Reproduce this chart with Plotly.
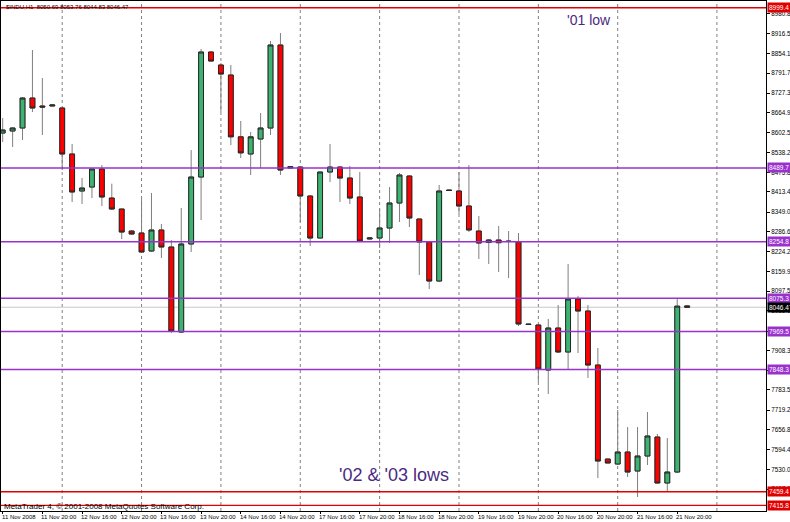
import plotly.graph_objects as go

# ---- data (Dow Jones $INDU, H1) ----
bars = list(range(70))

opens = [8600.8, 8607.2, 8616.8, 8712.2, 8686.8, 8686.8, 8680.4, 8534.1, 8416.3, 8429.0,
         8486.3, 8394.0, 8359.0, 8289.0, 8282.7, 8225.4, 8292.2, 8238.1, 7967.6, 8247.7,
         8460.8, 8858.6, 8817.2, 8785.4, 8588.7, 8534.1, 8581.8, 8616.8, 8880.8, 8489.4,
         8492.6, 8400.4, 8266.7, 8476.8, 8492.6, 8457.6, 8397.2, 8263.6, 8266.7, 8298.6,
         8378.1, 8464.0, 8327.2, 8254.0, 8129.9, 8419.5, 8416.3, 8368.6, 8289.0, 8252.4,
         8260.4, 8257.2, 8254.0, 7993.1, 7989.9, 7846.7, 7980.4, 7904.0, 8072.6, 8034.4,
         7862.6, 7563.5, 7547.6, 7585.8, 7525.3, 7573.0, 7633.5, 7487.2, 7522.1, 8050.69]

highs = [8648.6, 8619.9, 8715.4, 8865.0, 8775.8, 8691.5, 8683.6, 8565.8, 8457.6, 8486.3,
         8499.0, 8439.6, 8359.0, 8292.2, 8390.8, 8409.9, 8311.3, 8260.4, 8362.2, 8546.7,
         8868.1, 8861.7, 8823.6, 8817.2, 8639.0, 8604.0, 8664.5, 8893.6, 8919.0, 8495.8,
         8492.6, 8403.6, 8476.8, 8565.8, 8495.8, 8495.8, 8476.8, 8268.4, 8359.0, 8429.0,
         8473.6, 8467.2, 8327.2, 8257.2, 8435.4, 8421.1, 8476.8, 8499.0, 8336.8, 8263.6,
         8304.9, 8289.0, 8282.7, 7994.7, 7993.1, 8009.0, 8053.5, 8184.0, 8082.1, 8053.5,
         7916.7, 7563.5, 7719.4, 7665.3, 7665.3, 7713.0, 7643.1, 7630.4, 8072.6, 8053.76]

lows = [8572.2, 8556.3, 8578.5, 8667.7, 8594.5, 8685.2, 8483.1, 8381.3, 8374.9, 8394.0,
        8368.6, 8355.8, 8263.6, 8276.3, 8219.0, 8222.2, 8203.1, 7964.4, 7964.4, 8222.2,
        8324.0, 8828.0, 8667.7, 8562.6, 8521.3, 8467.2, 8489.4, 8594.5, 8467.2, 8488.0,
        8317.6, 8241.2, 8266.7, 8444.9, 8381.3, 8374.9, 8257.2, 8262.0, 8234.9, 8250.8,
        8317.6, 8301.7, 8149.0, 8104.4, 8126.7, 8416.3, 8343.1, 8285.8, 8199.9, 8184.0,
        8158.5, 8139.4, 7986.7, 7989.9, 7808.5, 7770.3, 7900.8, 7846.7, 7900.8, 7821.3,
        7503.0, 7550.8, 7544.4, 7506.2, 7442.6, 7544.4, 7485.6, 7458.5, 7519.0, 8044.83]

closes = [8610.4, 8616.8, 8712.2, 8680.4, 8683.6, 8689.9, 8534.1, 8413.1, 8425.8, 8486.3,
          8397.2, 8359.0, 8285.8, 8279.5, 8222.2, 8292.2, 8238.1, 7970.8, 8247.7, 8460.8,
          8858.6, 8829.9, 8788.5, 8588.7, 8537.6, 8588.7, 8616.8, 8880.8, 8483.1, 8493.6,
          8400.4, 8266.7, 8476.8, 8492.6, 8457.6, 8394.0, 8257.2, 8266.7, 8298.6, 8378.1,
          8467.2, 8330.4, 8254.0, 8129.9, 8416.3, 8417.9, 8368.6, 8292.2, 8250.8, 8260.4,
          8251.8, 8255.6, 7993.1, 7991.5, 7849.9, 7980.4, 7904.0, 8072.6, 8034.4, 7862.6,
          7557.1, 7550.8, 7585.8, 7522.1, 7573.0, 7636.7, 7487.2, 7522.1, 8050.0, 8046.47]

x_label_bars = [0, 4, 8, 12, 16, 20, 24, 28, 32, 36, 40, 44, 48, 52, 56, 60, 64, 68]
x_labels = ["11 Nov 2008", "11 Nov 20:00", "12 Nov 16:00", "12 Nov 20:00", "13 Nov 16:00",
            "13 Nov 20:00", "14 Nov 16:00", "14 Nov 20:00", "17 Nov 16:00", "17 Nov 20:00",
            "18 Nov 16:00", "18 Nov 20:00", "19 Nov 16:00", "19 Nov 20:00", "20 Nov 16:00",
            "20 Nov 20:00", "21 Nov 16:00", "21 Nov 20:00"]
grid_bars = [6, 14, 22, 30, 38, 46, 54, 62, 72]

y_ticks = [8980.86, 8916.51, 8854.11, 8791.71, 8727.36, 8664.96, 8602.56, 8538.21, 8475.81,
           8413.41, 8349.06, 8286.66, 8224.26, 8159.91, 8097.51, 8035.11, 7970.76, 7908.36,
           7845.96, 7783.56, 7719.21, 7656.81, 7594.41, 7530.06, 7467.66]

red_levels = [8999.4, 7459.4, 7415.8]
purple_levels = [8489.7, 8254.8, 8075.3, 7969.5, 7848.3]
last_price = 8046.47
symbol = "$INDU,H1"

# ---- figure ----
UP = "#3cb371"
DOWN = "#ff0000"
PURPLE = "#9932cc"
RED = "#e00000"
FONT = "Liberation Sans"

body_hi = [max(o, c) for o, c in zip(opens, closes)]
body_lo = [min(o, c) for o, c in zip(opens, closes)]

fig = go.Figure()
# wicks (gray)
fig.add_trace(go.Candlestick(
    x=bars, open=opens, high=highs, low=lows, close=closes,
    increasing=dict(line=dict(color="#7f7f7f", width=1), fillcolor=UP),
    decreasing=dict(line=dict(color="#7f7f7f", width=1), fillcolor=DOWN),
    whiskerwidth=0, showlegend=False, hoverinfo="skip"))
# bodies with dark outline
fig.add_trace(go.Candlestick(
    x=bars, open=opens, high=body_hi, low=body_lo, close=closes,
    increasing=dict(line=dict(color="#262626", width=1), fillcolor=UP),
    decreasing=dict(line=dict(color="#262626", width=1), fillcolor=DOWN),
    whiskerwidth=0, showlegend=False))

shapes = []
for g in grid_bars:
    shapes.append(dict(type="line", xref="x", yref="paper", x0=g, x1=g, y0=0, y1=1,
                       line=dict(color="#808080", width=1, dash="dot"), layer="below"))
shapes.append(dict(type="line", xref="paper", yref="y", x0=0, x1=1, y0=last_price, y1=last_price,
                   line=dict(color="#c8c8c8", width=1), layer="below"))
for lv in red_levels:
    shapes.append(dict(type="line", xref="paper", yref="y", x0=0, x1=1, y0=lv, y1=lv,
                       line=dict(color=RED, width=1.3)))
for lv in purple_levels:
    shapes.append(dict(type="line", xref="paper", yref="y", x0=0, x1=1, y0=lv, y1=lv,
                       line=dict(color=PURPLE, width=1.6)))

annotations = []
for b, t in zip(x_label_bars, x_labels):
    annotations.append(dict(x=b, y=0, xref="x", yref="paper", text=t, showarrow=False,
                            xanchor="left", yanchor="top", xshift=-3, yshift=-1,
                            font=dict(family=FONT, size=6, color="#000000")))


def level_label(val, bg):
    return dict(x=1, y=val, xref="paper", yref="y", text=f"{val:.1f}", showarrow=False,
                xanchor="left", yanchor="middle", xshift=1, bgcolor=bg, borderpad=1,
                font=dict(family=FONT, size=6.5, color="#ffffff"))


for lv in purple_levels:
    annotations.append(level_label(lv, PURPLE))
for lv in red_levels:
    annotations.append(level_label(lv, RED))
annotations.append(dict(x=1, y=last_price, xref="paper", yref="y", text=f"{last_price:.2f}",
                        showarrow=False, xanchor="left", yanchor="middle", xshift=1,
                        bgcolor="#000000", borderpad=1,
                        font=dict(family=FONT, size=6.5, color="#ffffff")))

header = f"{symbol}  {opens[-1]:.2f} {highs[-1]:.2f} {lows[-1]:.2f} {closes[-1]:.2f}"
annotations.append(dict(x=0, y=1, xref="paper", yref="paper", text=header, showarrow=False,
                        xanchor="left", yanchor="top", xshift=3, yshift=-1,
                        font=dict(family=FONT, size=6, color="#000000")))
annotations.append(dict(x=0, y=0, xref="paper", yref="paper",
                        text="MetaTrader 4, © 2001-2008 MetaQuotes Software Corp.",
                        showarrow=False, xanchor="left", yanchor="bottom", xshift=1, yshift=-2,
                        font=dict(family=FONT, size=8, color="#000000")))
annotations.append(dict(x=57.1, y=8960, xref="x", yref="y", text="'01 low", showarrow=False,
                        xanchor="left", yanchor="middle", xshift=-4,
                        font=dict(family=FONT, size=14, color="#4b2a80")))
annotations.append(dict(x=34.0, y=7512, xref="x", yref="y", text="'02 & '03 lows", showarrow=False,
                        xanchor="left", yanchor="middle", xshift=-3,
                        font=dict(family=FONT, size=18, color="#4b2a80")))

fig.update_layout(
    width=790, height=522,
    margin=dict(l=1, r=24, t=1, b=11, autoexpand=False),
    paper_bgcolor="white", plot_bgcolor="white",
    showlegend=False,
    boxgap=0.3,
    shapes=shapes, annotations=annotations,
    xaxis=dict(range=[-0.17, 76.95], rangeslider=dict(visible=False), automargin=False,
               tickvals=x_label_bars, ticktext=[""] * len(x_label_bars),
               ticks="outside", ticklen=2, tickcolor="#000000",
               showgrid=False, zeroline=False, showline=True, mirror=True,
               linecolor="#000000", linewidth=1),
    yaxis=dict(range=[7398.1, 9020.9], side="right", automargin=False,
               tickvals=y_ticks, ticktext=[f"{v:.2f}" for v in y_ticks],
               ticks="outside", ticklen=3, tickcolor="#000000",
               tickfont=dict(family=FONT, size=6.3, color="#000000"),
               showgrid=False, zeroline=False, showline=True, mirror=True,
               linecolor="#000000", linewidth=1),
)

fig.write_html(
    "out.html",
    config={"displayModeBar": False},
    post_script="document.body.style.margin='0';document.body.style.padding='0';"
                "document.body.style.overflow='hidden';",
)
